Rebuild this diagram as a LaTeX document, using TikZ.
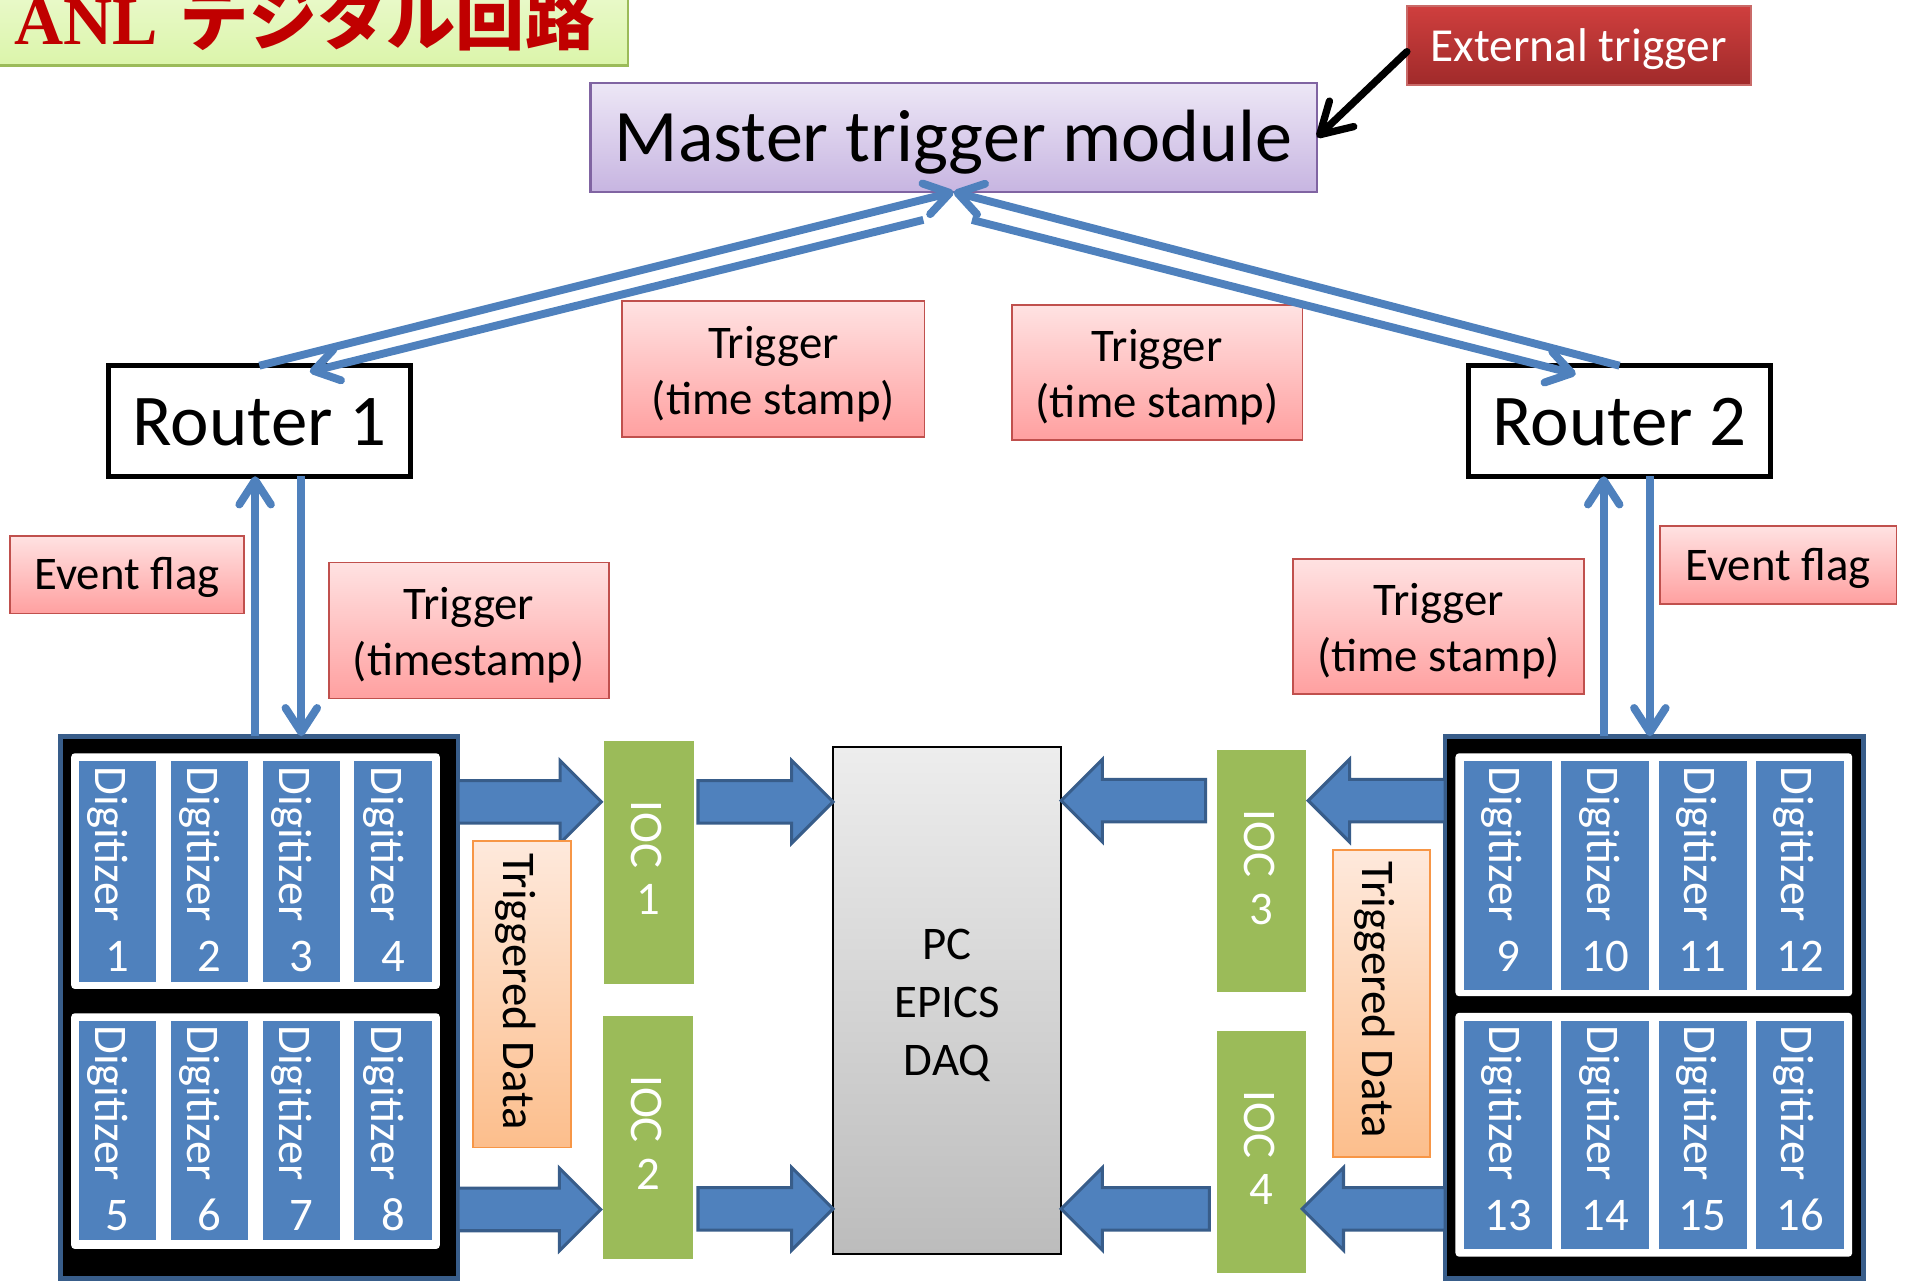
\documentclass[tikz,border=0pt]{standalone}
\usepackage{fontspec}
\setmainfont{Carlito}
\newfontfamily\titleserif{Liberation Serif}
\newfontfamily\jpfont{Noto Sans CJK JP}
\usetikzlibrary{arrows.meta,calc}

\definecolor{flowblue}{RGB}{79,129,189}
\definecolor{edgeblue}{RGB}{56,93,138}
\definecolor{iocgreen}{RGB}{155,187,89}
\definecolor{labelred}{RGB}{192,80,77}
\definecolor{labeltop}{RGB}{255,226,226}
\definecolor{labelbot}{RGB}{255,160,160}
\definecolor{peachtop}{RGB}{254,233,220}
\definecolor{peachbot}{RGB}{252,190,140}
\definecolor{peachedge}{RGB}{247,150,70}
\definecolor{lavtop}{RGB}{237,231,246}
\definecolor{lavbot}{RGB}{199,181,225}
\definecolor{lavedge}{RGB}{128,100,162}
\definecolor{exttop}{RGB}{207,63,62}
\definecolor{extbot}{RGB}{160,42,42}
\definecolor{titletop}{RGB}{243,252,224}
\definecolor{titlebot}{RGB}{219,245,170}
\definecolor{titleedge}{RGB}{155,187,89}
\definecolor{titlered}{RGB}{192,0,0}
\definecolor{pctop}{RGB}{237,237,237}
\definecolor{pcbot}{RGB}{188,188,188}

\newcommand\lblfont{\fontsize{38.5}{46}\selectfont}
% invisible strut that lowers a two-line caption inside its box
\newcommand\lowerstrut{\rule{0pt}{34pt}}

% horizontal block arrow from #1 to the tip #2
\newcommand\blockarrow[2]{%
  \draw[blockarr] let \p1=(#1), \p2=(#2), \n1={(\x2>\x1)*2-1} in
    (\x1,\y1+17.5pt) -- ({\x2-\n1*34pt},\y1+17.5pt) -- ({\x2-\n1*34pt},\y1+34pt)
    -- (\x2,\y1) -- ({\x2-\n1*34pt},\y1-34pt) -- ({\x2-\n1*34pt},\y1-17.5pt)
    -- (\x1,\y1-17.5pt) -- cycle;}

\begin{document}
\begin{tikzpicture}[x=1pt, y=-1pt,
  every node/.style={inner sep=0pt, outer sep=0pt},
  sized/.style 2 args={minimum width=#1, minimum height=#2},
  pinklabel/.style={draw=labelred, line width=1.5pt, top color=labeltop,
    bottom color=labelbot, font=\lblfont, align=center},
  router/.style={draw=black, line width=4pt, fill=white,
    font=\fontsize{60}{60}\selectfont, text height=39.6pt, text depth=0pt},
  flow/.style={draw=flowblue, line width=6.5pt},
  flowtip/.style={flow, -{Straight Barb[length=20pt,width=26pt,round]}},
  digit/.style={fill=flowblue},
  vword/.style={rotate=-90, anchor=base west, font=\lblfont},
  ioc/.style={fill=iocgreen},
  blockarr/.style={fill=flowblue, draw=edgeblue, line width=2.5pt, line join=miter},
  rack/.style={fill=black, draw=edgeblue, line width=4pt},
  panel/.style={fill=white, rounded corners=3pt},
  tdata/.style={draw=peachedge, line width=1.5pt, top color=peachtop, bottom color=peachbot}]

\useasboundingbox (0,0) rectangle (1568,1054);
\clip (0,0) rectangle (1568,1054);

% title
\node[draw=titleedge, line width=2pt, top color=titletop, bottom color=titlebot,
  sized={527}{100}, anchor=south west] (title) at (-10,54) {};
\node[anchor=base west, text=titlered] (titletext) at (12,37)
  {\titleserif\bfseries\fontsize{56}{56}\selectfont ANL\hspace{18pt}\jpfont\bfseries\fontsize{57}{57}\selectfont デジタル回路};

% trigger sources
\node[draw=lavedge, line width=1.8pt, top color=lavtop, bottom color=lavbot,
  sized={598}{90}, font=\fontsize{61}{61}\selectfont, text height=40pt, text depth=0pt]
  (master) at (785,113) {Master trigger module};
\node[draw=labelred!85!white, line width=1.5pt, top color=exttop, bottom color=extbot,
  sized={283}{65}, text=white, font=\fontsize{39}{39}\selectfont,
  text height=26.6pt, text depth=0pt] (ext) at (1299.5,37.5) {External trigger};

% routers
\node[router, sized={249}{91}] (r1) at (213.5,346.5) {Router 1};
\node[router, sized={248}{91}] (r2) at (1333,346.5) {Router 2};

% signal labels
\node[pinklabel, sized={193}{64}, text height=25.2pt, text depth=0pt] (evL) at (104.5,473) {Event flag};
\node[pinklabel, sized={195}{64}, text height=24.8pt, text depth=0pt] (evR) at (1463.5,465) {Event flag};
\node[pinklabel, sized={230}{112}] (trL) at (386,519) {\lowerstrut Trigger\\(timestamp)};
\node[pinklabel, sized={249}{112}] (trML) at (636.5,304) {\lowerstrut Trigger\\(time stamp)};
\node[pinklabel, sized={239}{111}] (trMR) at (952.5,306.5) {\lowerstrut Trigger\\(time stamp)};
\node[pinklabel, sized={240}{111}] (trR) at (1184,515.5) {\lowerstrut Trigger\\(time stamp)};

% digitizer racks
\node[rack, sized={327.5}{446}] (digL) at (213.25,829) {};
\node[rack, sized={344.1}{446}] (digR) at (1361.45,829) {};
\fill[panel] (58.6,620) rectangle (362,814);
\fill[panel] (58.6,834) rectangle (362,1028);
\fill[panel] (1198,620) rectangle (1524.5,820);
\fill[panel] (1198,833.6) rectangle (1524.5,1034.4);

% IOCs and PC
\node[ioc, sized={74}{200}] (ioc1) at (534,710) {};
\node[ioc, sized={74}{200}] (ioc2) at (533.5,936) {};
\node[ioc, sized={73.4}{199}] (ioc3) at (1038.1,717.1) {};
\node[ioc, sized={73.4}{199}] (ioc4) at (1038.1,948.2) {};
\node[draw=black, line width=2pt, top color=pctop, bottom color=pcbot, sized={187.7}{417},
  align=center, font=\fontsize{38.5}{47.7}\selectfont] (pc) at (779.5,823.5)
  {\rule{0pt}{33pt}PC\\EPICS\\DAQ};

% data path block arrows
\blockarrow{digL.east |- 0,660}{$(ioc1.west |- 0,660)+(-2,0)$}
\blockarrow{digL.east |- 0,995.5}{$(ioc2.west |- 0,995.5)+(-2,0)$}
\blockarrow{$(ioc1.east |- 0,660)+(3.5,0)$}{pc.west |- 0,660}
\blockarrow{$(ioc2.east |- 0,995)+(4,0)$}{pc.west |- 0,995}
\blockarrow{$(ioc3.west |- 0,659)+(-9,0)$}{pc.east |- 0,659}
\blockarrow{$(ioc4.west |- 0,995)+(-6,0)$}{pc.east |- 0,995}
\blockarrow{digR.west |- 0,659}{$(ioc3.east |- 0,659)+(2,0)$}
\blockarrow{digR.west |- 0,995}{$(ioc4.east |- 0,995)+(-3,0)$}

% digitizer modules
\foreach \n/\cx/\cy/\w/\h/\ws/\nb/\off in {
  1/96.8/717.25/63.5/181.5/631/800/18, 2/172.3/717.25/63.5/181.5/631/800/18,
  3/248.3/717.25/63.5/181.5/631/800/18, 4/323.5/717.25/63.5/181.5/631/800/18,
  5/96.8/930.5/63.5/181/844/1013/18, 6/172.3/930.5/63.5/181/844/1013/18,
  7/248.3/930.5/63.5/181/844/1013/18, 8/323.5/930.5/63.5/181/844/1013/18,
  9/1241.3/720.8/72.5/188.4/631/800/15, 10/1321.4/720.8/72.5/188.4/631/800/15,
  11/1401.4/720.8/72.5/188.4/631/800/15, 12/1481.7/720.8/72.5/188.4/631/800/15,
  13/1241.3/934/72.5/188/844/1013/15, 14/1321.4/934/72.5/188/844/1013/15,
  15/1401.4/934/72.5/188/844/1013/15, 16/1481.7/934/72.5/188/844/1013/15}{
  \node[digit, sized={\w}{\h}] (d\n) at (\cx,\cy) {};
  \node[vword, text=white] (dw\n) at ({\cx-\off},\ws) {Digitizer};
  \node[anchor=base, text=white, font=\lblfont] (dn\n) at (\cx,\nb) {\n};
}

% IOC captions
\foreach \n/\cx/\ws/\nb in {1/534/659/753, 2/533.5/885/979, 3/1038.1/666.7/760.7, 4/1038.1/897.7/991.7}{
  \node[vword, text=white] (iw\n) at ({\cx-14},\ws) {IOC};
  \node[anchor=base, text=white, font=\lblfont] (in\n) at (\cx,\nb) {\n};
}

% triggered data tags
\node[tdata, sized={80.7}{252.1}] (tdL) at (429.85,818.45) {};
\node[rotate=-90, font=\lblfont] (tdLt) at (424.3,816) {Triggered Data};
\node[tdata, sized={80}{252.7}] (tdR) at (1137,826.05) {};
\node[rotate=-90, font=\lblfont] (tdRt) at (1131.4,823) {Triggered Data};

% trigger distribution links
\coordinate (mL) at (760,181);
\coordinate (mR) at (800,181);
\coordinate (r1in) at (255,306);
\coordinate (r2in) at (1297,308);
\draw[flowtip] (r1.north) -- (master.south);
\draw[flowtip] (mL) -- (r1in);
\draw[flowtip] (r2.north) -- (master.south);
\draw[flowtip] (mR) -- (r2in);

% router to rack links
\draw[flowtip] (digL.north -| 210,0) -- (r1.south -| 210,0);
\draw[flowtip] (r1.south -| 248,0) -- (digL.north -| 248,0);
\draw[flowtip] (digR.north -| 1320,0) -- (r2.south -| 1320,0);
\draw[flowtip] (r2.south -| 1358,0) -- (digR.north -| 1358,0);

% external trigger input
\draw[black, line width=6pt, line cap=round, -{Straight Barb[length=25pt,width=29pt,round]}]
  ([yshift=-5pt]ext.west) -- (master.east);
\end{tikzpicture}
\end{document}
